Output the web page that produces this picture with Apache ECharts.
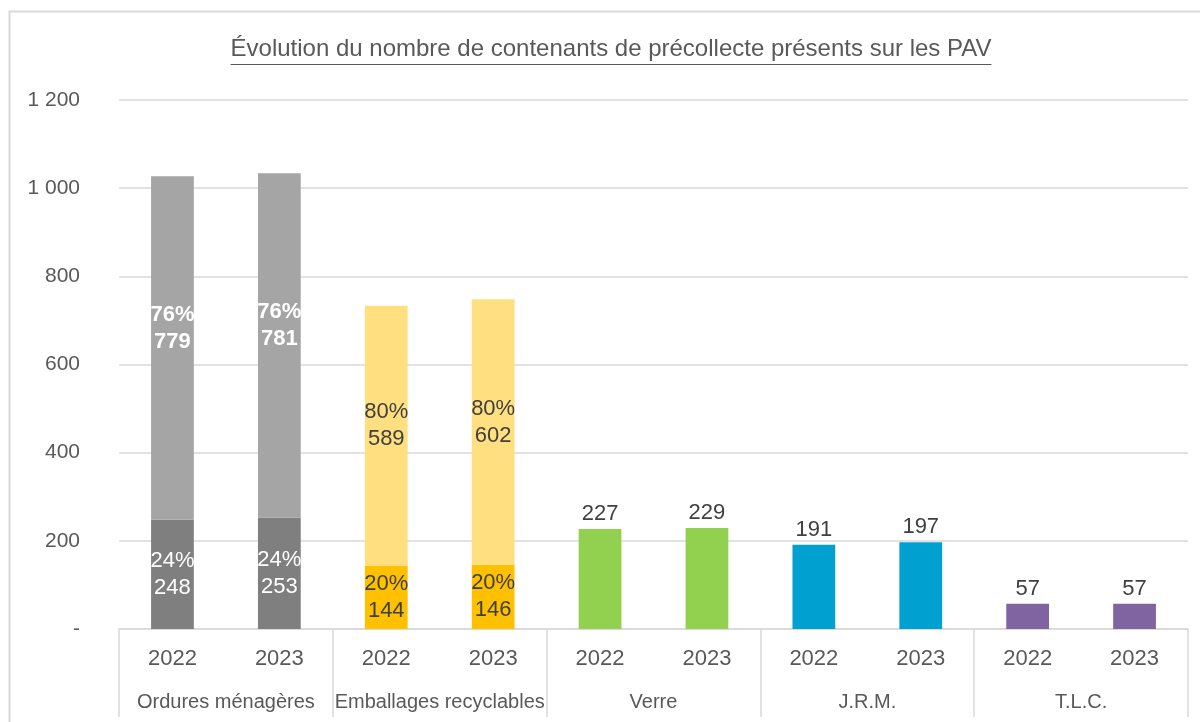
<!DOCTYPE html>
<html>
<head>
<meta charset="utf-8">
<script src="https://cdn.jsdelivr.net/npm/echarts@6/dist/echarts.min.js"></script>
<style>
  html, body { margin: 0; padding: 0; background: #fff; }
  #chart { width: 1200px; height: 722px; }
</style>
</head>
<body>
<div id="chart"></div>
<script>
  var FONT = '"Liberation Sans Narrow", "Liberation Sans", Arial, sans-serif'
  var TITLE = 'Évolution du nombre de contenants de précollecte présents sur les PAV'

  // données
  var years = ['2022', '2023', '2022', '2023', '2022', '2023', '2022', '2023', '2022', '2023']
  var groups = ['Ordures ménagères', 'Emballages recyclables', 'Verre', 'J.R.M.', 'T.L.C.']
  var lowerPart = [248, 253, 144, 146, '-', '-', '-', '-', '-', '-']
  var upperPart = [779, 781, 589, 602, '-', '-', '-', '-', '-', '-']
  var singleValues = ['-', '-', '-', '-', 227, 229, 191, 197, 57, 57]
  var yTicks = [0, 200, 400, 600, 800, 1000, 1200]

  var lowerColors = ['#7f7f7f', '#7f7f7f', '#ffc000', '#ffc000']
  var upperColors = ['#a5a5a5', '#a5a5a5', '#ffdf7f', '#ffdf7f']
  var singleColors = ['', '', '', '', '#92d050', '#92d050', '#00a0d0', '#00a0d0', '#8064a2', '#8064a2']

  function pct(part, i) {
    var total = lowerPart[i] + upperPart[i]
    return Math.round(part / total * 100) + '%'
  }

  var lowerData = lowerPart.map(function (v, i) {
    if (v === '-') return v
    var grey = i < 2
    return {
      value: v,
      itemStyle: { color: lowerColors[i] },
      label: { color: grey ? '#ffffff' : '#404040' }
    }
  })
  var upperData = upperPart.map(function (v, i) {
    if (v === '-') return v
    var grey = i < 2
    return {
      value: v,
      itemStyle: { color: upperColors[i] },
      label: {
        color: grey ? '#ffffff' : '#404040',
        fontWeight: grey ? 'bold' : 'normal',
        offset: grey ? [0, -20] : [0, -10]
      }
    }
  })
  var singleData = singleValues.map(function (v, i) {
    if (v === '-') return v
    return { value: v, itemStyle: { color: singleColors[i] } }
  })

  // largeur du titre pour le soulignement
  var ctx = document.createElement('canvas').getContext('2d')
  ctx.font = '24px ' + FONT
  var titleW = ctx.measureText(TITLE).width
  var titleX = 611

  var chart = echarts.init(document.getElementById('chart'), null, { renderer: 'canvas' })

  chart.setOption({
    animation: false,
    textStyle: { fontFamily: FONT },
    graphic: [
      {
        type: 'rect',
        shape: { x: 9.5, y: 11.5, width: 1300, height: 800 },
        style: { fill: 'none', stroke: '#d9d9d9', lineWidth: 2 },
        silent: true
      },
      {
        type: 'text',
        x: titleX,
        y: 49,
        style: {
          text: TITLE,
          font: '24px ' + FONT,
          fill: '#595959',
          align: 'center',
          verticalAlign: 'middle'
        }
      },
      {
        type: 'line',
        shape: { x1: titleX - titleW / 2, y1: 64.5, x2: titleX + titleW / 2, y2: 64.5 },
        style: { stroke: '#595959', lineWidth: 1 }
      }
    ],
    grid: { left: 119, right: 12, top: 100, bottom: 93, containLabel: false },
    xAxis: [
      {
        type: 'category',
        data: years,
        position: 'bottom',
        axisLine: { show: true, lineStyle: { color: '#d9d9d9', width: 1.5 } },
        axisTick: { show: false },
        axisLabel: { color: '#595959', fontSize: 22, margin: 19, fontFamily: FONT, interval: 0 }
      },
      {
        type: 'category',
        data: groups,
        position: 'bottom',
        axisLine: { show: false },
        axisTick: { show: true, length: 88, lineStyle: { color: '#d9d9d9', width: 1.5 } },
        axisLabel: {
          color: '#595959', fontSize: 20, margin: 63, fontFamily: FONT,
          interval: 0, hideOverlap: false
        }
      }
    ],
    yAxis: {
      type: 'value',
      min: 0,
      max: 1200,
      interval: 200,
      axisLine: { show: false },
      axisTick: { show: false },
      splitLine: { lineStyle: { color: '#d9d9d9', width: 1.5 } },
      axisLabel: {
        color: '#595959',
        fontSize: 21,
        margin: 39,
        fontFamily: FONT,
        formatter: function (v) {
          if (yTicks.indexOf(v) < 0) return ''
          if (v === 0) return '-'
          return String(v).replace(/\B(?=(\d{3})+(?!\d))/g, ' ')
        }
      }
    },
    series: [
      {
        name: 'bas',
        type: 'bar',
        stack: 'total',
        barWidth: '40%',
        data: lowerData,
        label: {
          show: true,
          position: 'inside',
          fontSize: 22,
          lineHeight: 27,
          fontFamily: FONT,
          formatter: function (p) { return pct(p.value, p.dataIndex) + '\n' + p.value }
        }
      },
      {
        name: 'haut',
        type: 'bar',
        stack: 'total',
        barWidth: '40%',
        data: upperData,
        label: {
          show: true,
          position: 'inside',
          fontSize: 22,
          lineHeight: 27,
          fontFamily: FONT,
          formatter: function (p) { return pct(p.value, p.dataIndex) + '\n' + p.value }
        }
      },
      {
        name: 'seul',
        type: 'bar',
        stack: 'total',
        barWidth: '40%',
        data: singleData,
        label: {
          show: true,
          position: 'top',
          distance: 4,
          color: '#404040',
          fontSize: 22,
          fontFamily: FONT
        }
      }
    ]
  })
</script>
</body>
</html>
